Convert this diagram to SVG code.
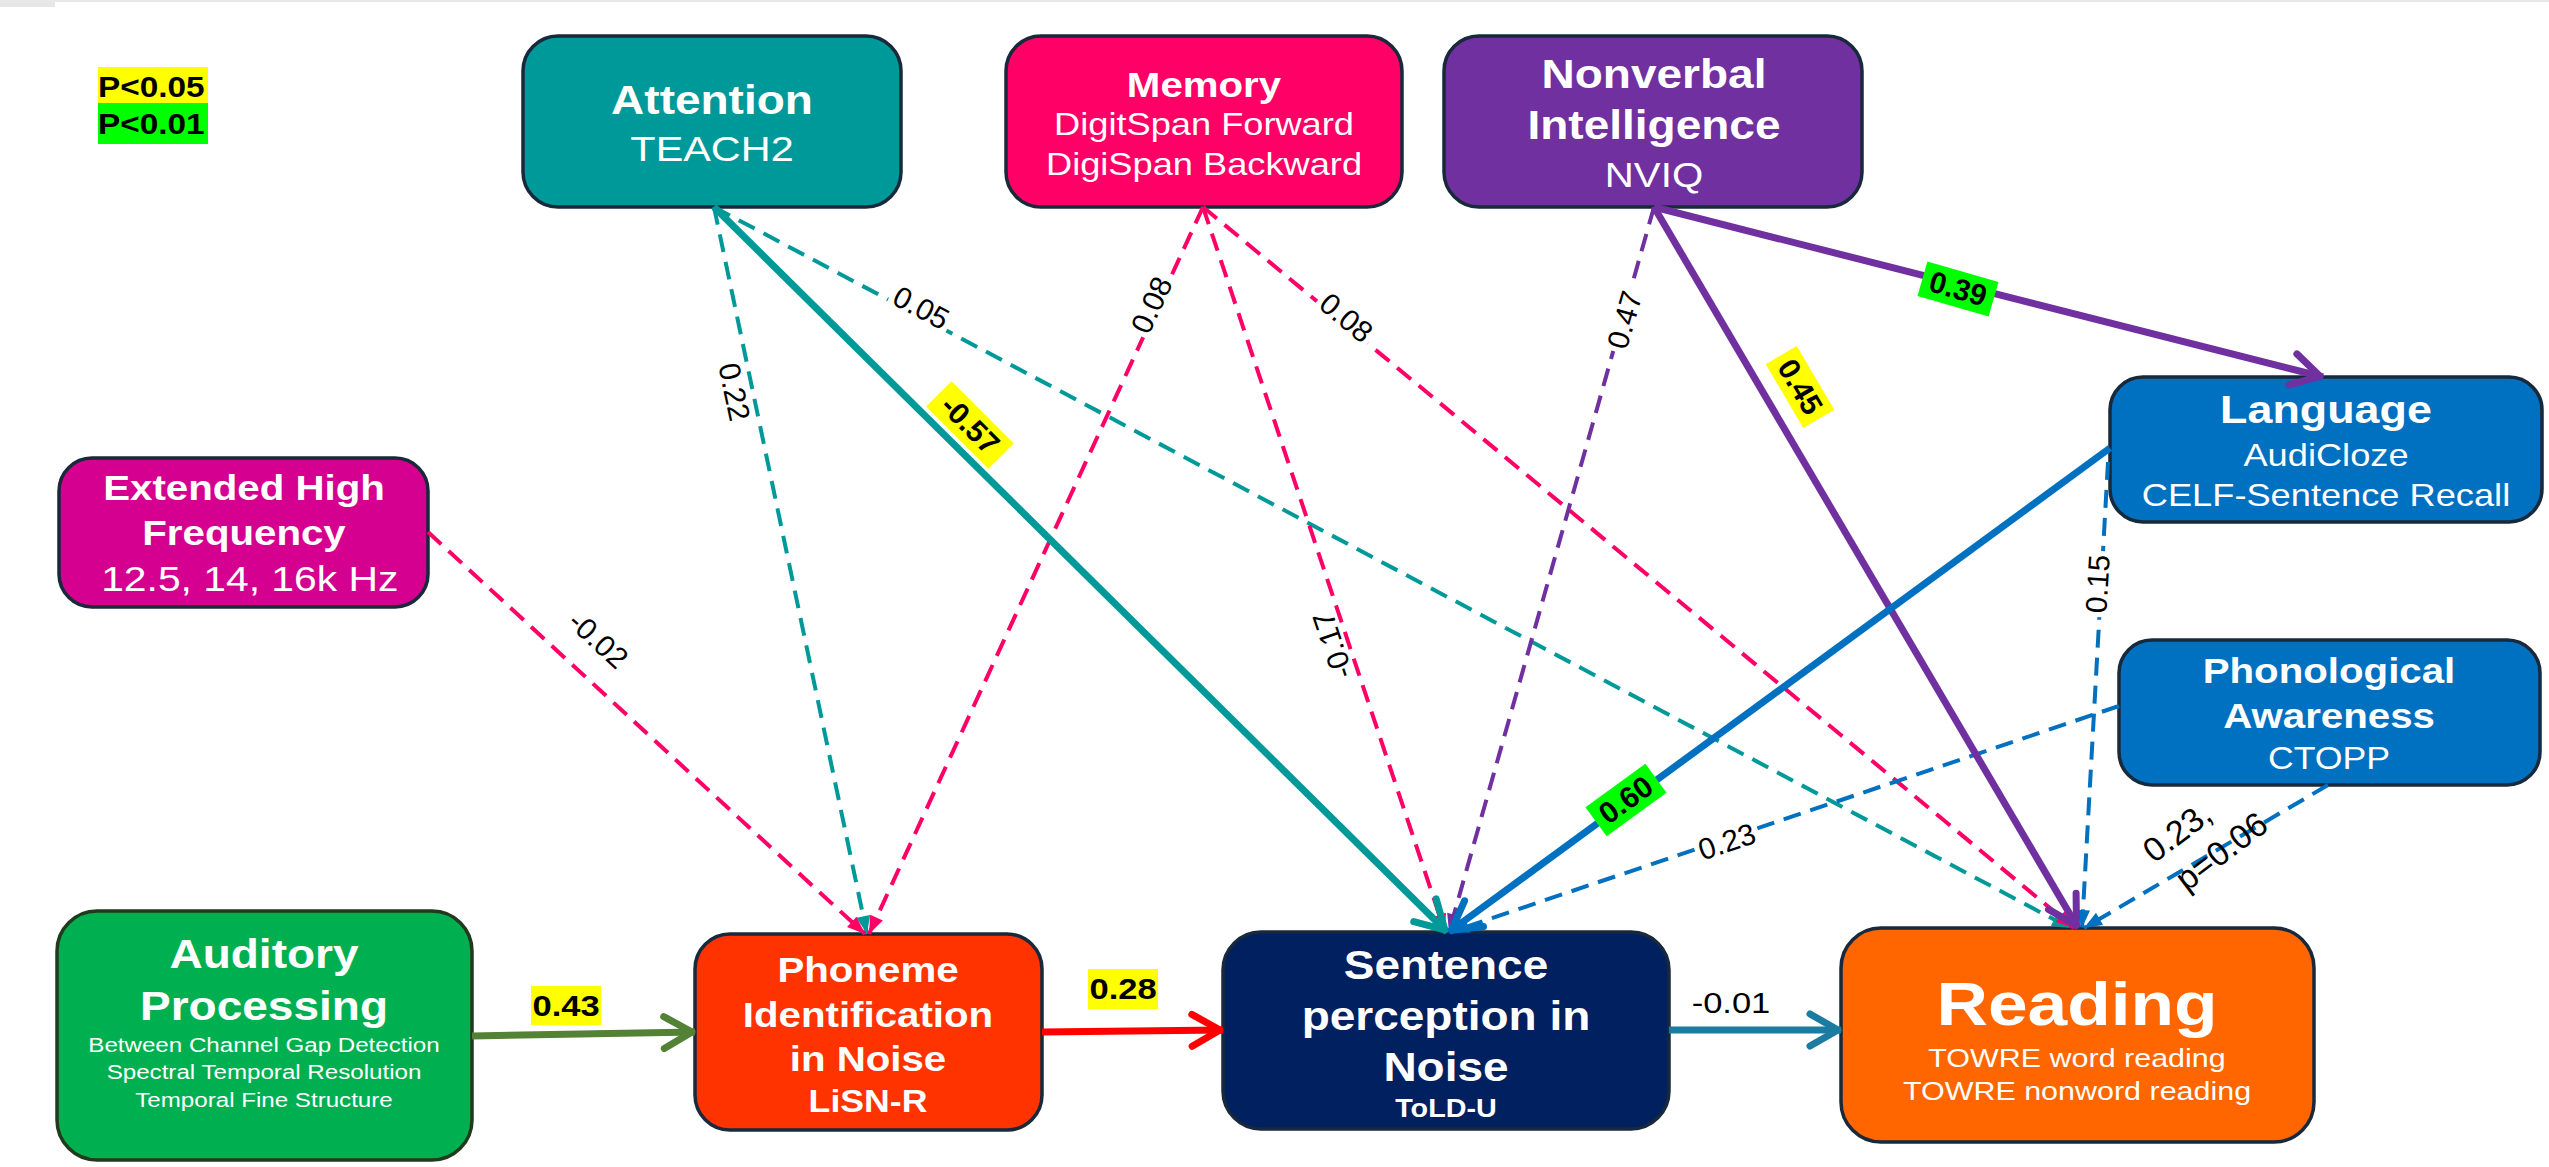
<svg xmlns="http://www.w3.org/2000/svg" width="2549" height="1167" viewBox="0 0 2549 1167">
<style>
text{font-family:"Liberation Sans",Arial,sans-serif}
.box{stroke:#17293a;stroke-width:3.5}
.t{font-weight:bold;fill:#fff;text-anchor:middle}
.s{fill:#fff;text-anchor:middle}
.lb{font-size:30px;fill:#000;text-anchor:middle}
.hb{font-size:30px;font-weight:bold;fill:#000;text-anchor:middle}
.d{fill:none;stroke-width:4;stroke-dasharray:18 10}
.sl{fill:none;stroke-width:7}
.bg{fill:#fff}
</style>
<defs>
<marker id="chT" markerUnits="userSpaceOnUse" orient="auto" overflow="visible" markerWidth="10" markerHeight="10" refX="0" refY="0"><path d="M-31,-16 L-3,0 L-31,16" fill="none" stroke="#009999" stroke-width="7" stroke-linecap="round" stroke-linejoin="round"/></marker>
<marker id="chPu" markerUnits="userSpaceOnUse" orient="auto" overflow="visible" markerWidth="10" markerHeight="10" refX="0" refY="0"><path d="M-31,-16 L-3,0 L-31,16" fill="none" stroke="#7030A0" stroke-width="7" stroke-linecap="round" stroke-linejoin="round"/></marker>
<marker id="chB" markerUnits="userSpaceOnUse" orient="auto" overflow="visible" markerWidth="10" markerHeight="10" refX="0" refY="0"><path d="M-31,-16 L-3,0 L-31,16" fill="none" stroke="#0070C0" stroke-width="7" stroke-linecap="round" stroke-linejoin="round"/></marker>
<marker id="chG" markerUnits="userSpaceOnUse" orient="auto" overflow="visible" markerWidth="10" markerHeight="10" refX="0" refY="0"><path d="M-31,-16 L-3,0 L-31,16" fill="none" stroke="#538135" stroke-width="7" stroke-linecap="round" stroke-linejoin="round"/></marker>
<marker id="chR" markerUnits="userSpaceOnUse" orient="auto" overflow="visible" markerWidth="10" markerHeight="10" refX="0" refY="0"><path d="M-31,-16 L-3,0 L-31,16" fill="none" stroke="#FF0000" stroke-width="7" stroke-linecap="round" stroke-linejoin="round"/></marker>
<marker id="chTB" markerUnits="userSpaceOnUse" orient="auto" overflow="visible" markerWidth="10" markerHeight="10" refX="0" refY="0"><path d="M-31,-16 L-3,0 L-31,16" fill="none" stroke="#1B7BA0" stroke-width="7" stroke-linecap="round" stroke-linejoin="round"/></marker>
<marker id="trT" markerUnits="userSpaceOnUse" orient="auto" overflow="visible" markerWidth="10" markerHeight="10" refX="0" refY="0"><path d="M-18,-7 L0,0 L-18,7 Z" fill="#009999"/></marker>
<marker id="trP" markerUnits="userSpaceOnUse" orient="auto" overflow="visible" markerWidth="10" markerHeight="10" refX="0" refY="0"><path d="M-18,-7 L0,0 L-18,7 Z" fill="#FF0066"/></marker>
<marker id="trPu" markerUnits="userSpaceOnUse" orient="auto" overflow="visible" markerWidth="10" markerHeight="10" refX="0" refY="0"><path d="M-18,-7 L0,0 L-18,7 Z" fill="#7030A0"/></marker>
<marker id="trB" markerUnits="userSpaceOnUse" orient="auto" overflow="visible" markerWidth="10" markerHeight="10" refX="0" refY="0"><path d="M-18,-7 L0,0 L-18,7 Z" fill="#0070C0"/></marker>
</defs>
<rect x="0" y="0" width="2549" height="1167" fill="#fff"/>
<rect x="0" y="0" width="55" height="7" fill="#e6e6e6"/>
<line x1="0" y1="1" x2="2549" y2="1" stroke="#e8e8e8" stroke-width="2"/>

<g id="legend">
<rect x="98" y="67" width="110" height="36" fill="#FFFF00"/>
<rect x="98" y="103" width="110" height="41" fill="#00FF00"/>
<g transform="translate(98 0) scale(1.15 1)">
<text x="0" y="97" font-size="29" font-weight="bold" fill="#000">P&lt;0.05</text>
<text x="0" y="134" font-size="29" font-weight="bold" fill="#000">P&lt;0.01</text>
</g>
</g>

<g id="attention">
<rect class="box" x="523" y="36" width="378" height="171" rx="35" fill="#009999"/>
<g transform="translate(712 0) scale(1.15 1)">
<text class="t" x="0" y="114" font-size="40">Attention</text>
<text class="s" x="0" y="161" font-size="36">TEACH2</text>
</g>
</g>

<g id="memory">
<rect class="box" x="1006" y="36" width="396" height="171" rx="35" fill="#FF0066"/>
<g transform="translate(1204 0) scale(1.15 1)">
<text class="t" x="0" y="97" font-size="35">Memory</text>
<text class="s" x="0" y="135" font-size="31.5">DigitSpan Forward</text>
<text class="s" x="0" y="175" font-size="31.5">DigiSpan Backward</text>
</g>
</g>

<g id="nonverbal">
<rect class="box" x="1444" y="36" width="418" height="171" rx="35" fill="#7030A0"/>
<g transform="translate(1654 0) scale(1.15 1)">
<text class="t" x="0" y="88" font-size="40">Nonverbal</text>
<text class="t" x="0" y="139" font-size="40">Intelligence</text>
<text class="s" x="0" y="187" font-size="35">NVIQ</text>
</g>
</g>

<g id="language">
<rect class="box" x="2110" y="377" width="432" height="145" rx="33" fill="#0070C0"/>
<g transform="translate(2326 0) scale(1.15 1)">
<text class="t" x="0" y="423" font-size="39">Language</text>
<text class="s" x="0" y="466" font-size="31.5">AudiCloze</text>
<text class="s" x="0" y="506" font-size="31.5">CELF-Sentence Recall</text>
</g>
</g>

<g id="ehf">
<rect class="box" x="59" y="458" width="369" height="149" rx="33" fill="#D5008F"/>
<g transform="translate(244 0) scale(1.15 1)">
<text class="t" x="0" y="500" font-size="35">Extended High</text>
<text class="t" x="0" y="545" font-size="35">Frequency</text>
<text class="s" x="5" y="591" font-size="35.5">12.5, 14, 16k Hz</text>
</g>
</g>

<g id="phonological">
<rect class="box" x="2119" y="640" width="421" height="145" rx="33" fill="#0070C0"/>
<g transform="translate(2329 0) scale(1.15 1)">
<text class="t" x="0" y="683" font-size="35">Phonological</text>
<text class="t" x="0" y="728" font-size="35">Awareness</text>
<text class="s" x="0" y="769" font-size="31">CTOPP</text>
</g>
</g>

<g id="auditory">
<rect x="57" y="911" width="415" height="249" rx="40" fill="#00B050" stroke="#1f3a1c" stroke-width="3.5"/>
<g transform="translate(264 0) scale(1.15 1)">
<text class="t" x="0" y="968" font-size="40">Auditory</text>
<text class="t" x="0" y="1020" font-size="40">Processing</text>
<text class="s" x="0" y="1052" font-size="21">Between Channel Gap Detection</text>
<text class="s" x="0" y="1079" font-size="21">Spectral Temporal Resolution</text>
<text class="s" x="0" y="1107" font-size="21">Temporal Fine Structure</text>
</g>
</g>

<g id="phoneme">
<rect class="box" x="695" y="934" width="347" height="196" rx="35" fill="#FF3300"/>
<g transform="translate(868 0) scale(1.15 1)">
<text class="t" x="0" y="982" font-size="35">Phoneme</text>
<text class="t" x="0" y="1027" font-size="35">Identification</text>
<text class="t" x="0" y="1071" font-size="35">in Noise</text>
<text class="t" x="0" y="1112" font-size="31">LiSN-R</text>
</g>
</g>

<g id="sentence">
<rect class="box" x="1223" y="932" width="446" height="197" rx="38" fill="#002060"/>
<g transform="translate(1446 0) scale(1.15 1)">
<text class="t" x="0" y="979" font-size="40">Sentence</text>
<text class="t" x="0" y="1030" font-size="40">perception in</text>
<text class="t" x="0" y="1081" font-size="40">Noise</text>
<text class="t" x="0" y="1117" font-size="25">ToLD-U</text>
</g>
</g>

<g id="reading">
<rect class="box" x="1841" y="928" width="473" height="214" rx="40" fill="#FF6600"/>
<g transform="translate(2077 0) scale(1.15 1)">
<text class="t" x="0" y="1025" font-size="62">Reading</text>
<text class="s" x="0" y="1067" font-size="26.5">TOWRE word reading</text>
<text class="s" x="0" y="1100" font-size="26.5">TOWRE nonword reading</text>
</g>
</g>

<g id="connectors">
<path class="d" stroke="#009999" d="M714,207 L867,934" marker-end="url(#trT)"/>
<path class="d" stroke="#009999" d="M714,207 L2070,928" marker-end="url(#trT)"/>
<path class="d" stroke="#FF0066" d="M1203,207 L869,934" marker-end="url(#trP)"/>
<path class="d" stroke="#FF0066" d="M1203,207 L1445,932" marker-end="url(#trP)"/>
<path class="d" stroke="#FF0066" d="M1203,207 L2074,928" marker-end="url(#trP)"/>
<path class="d" stroke="#FF0066" d="M428,532 L865,934" marker-end="url(#trP)"/>
<path class="d" stroke="#7030A0" d="M1654,207 L1449,932" marker-end="url(#trPu)"/>
<path class="d" stroke="#0070C0" d="M2108,462 L2082,928" marker-end="url(#trB)"/>
<path class="d" stroke="#0070C0" d="M2119,706 L1451,932" marker-end="url(#trB)"/>
<path class="d" stroke="#0070C0" d="M2328,785 L2084,928" marker-end="url(#trB)"/>
<path class="sl" stroke="#009999" d="M714,207 L1447,932" marker-end="url(#chT)"/>
<path class="sl" stroke="#7030A0" d="M1654,207 L2078,928" marker-end="url(#chPu)"/>
<path class="sl" stroke="#7030A0" d="M1654,207 L2323,377" marker-end="url(#chPu)"/>
<path class="sl" stroke="#0070C0" d="M2110,448 L1449,932" marker-end="url(#chB)"/>
<path class="sl" stroke="#538135" d="M472,1036 L695,1032" marker-end="url(#chG)"/>
<path class="sl" stroke="#FF0000" d="M1042,1032 L1223,1030" marker-end="url(#chR)"/>
<path class="sl" stroke="#1B7BA0" d="M1669,1030 L1841,1030" marker-end="url(#chTB)"/>

<g transform="translate(734 392) rotate(78)"><text class="lb" y="10">0.22</text></g>
<g transform="translate(921 308) rotate(28)"><rect class="bg" x="-33" y="-17" width="66" height="34"/><text class="lb" y="10">0.05</text></g>
<g transform="translate(1152 305) rotate(-65)"><rect class="bg" x="-33" y="-17" width="66" height="34"/><text class="lb" y="10">0.08</text></g>
<g transform="translate(1333 645) rotate(-108.6)"><text class="lb" y="10">-0.17</text></g>
<g transform="translate(1346 318) rotate(39.6)"><rect class="bg" x="-33" y="-17" width="66" height="34"/><text class="lb" y="10">0.08</text></g>
<g transform="translate(1625 320) rotate(-74)"><rect class="bg" x="-33" y="-17" width="66" height="34"/><text class="lb" y="10">0.47</text></g>
<g transform="translate(598 640) rotate(42.5)"><text class="lb" y="10">-0.02</text></g>
<g transform="translate(2098 584) rotate(-86.5)"><rect class="bg" x="-33" y="-17" width="66" height="34"/><text class="lb" y="10">0.15</text></g>
<g transform="translate(1727 842) rotate(-18.6)"><rect class="bg" x="-33" y="-17" width="66" height="34"/><text class="lb" y="10">0.23</text></g>
<g transform="translate(2154 864) rotate(-37)"><text x="0" y="0" font-size="34" fill="#000">0.23,</text><text x="9" y="42" font-size="34" fill="#000">p=0.06</text></g>
<g transform="translate(1731 0) scale(1.15 1)"><text class="lb" x="0" y="1013">-0.01</text></g>

<g transform="translate(970 425) rotate(45)"><rect x="-44" y="-18" width="88" height="36" fill="#FFFF00"/><text class="hb" y="10">-0.57</text></g>
<g transform="translate(1800 387) rotate(59.5)"><rect x="-37" y="-18" width="74" height="36" fill="#FFFF00"/><text class="hb" y="10">0.45</text></g>
<g transform="translate(1958 289) rotate(16)"><rect x="-37" y="-18" width="74" height="36" fill="#00FF00"/><text class="hb" y="10">0.39</text></g>
<g transform="translate(1626 800) rotate(-36)"><rect x="-37" y="-18" width="74" height="36" fill="#00FF00"/><text class="hb" y="10">0.60</text></g>
<rect x="531" y="986" width="70" height="39" fill="#FFFF00"/>
<g transform="translate(566 0) scale(1.15 1)"><text class="hb" x="0" y="1016">0.43</text></g>
<rect x="1088" y="969" width="70" height="40" fill="#FFFF00"/>
<g transform="translate(1123 0) scale(1.15 1)"><text class="hb" x="0" y="999">0.28</text></g>
</g>
</svg>
